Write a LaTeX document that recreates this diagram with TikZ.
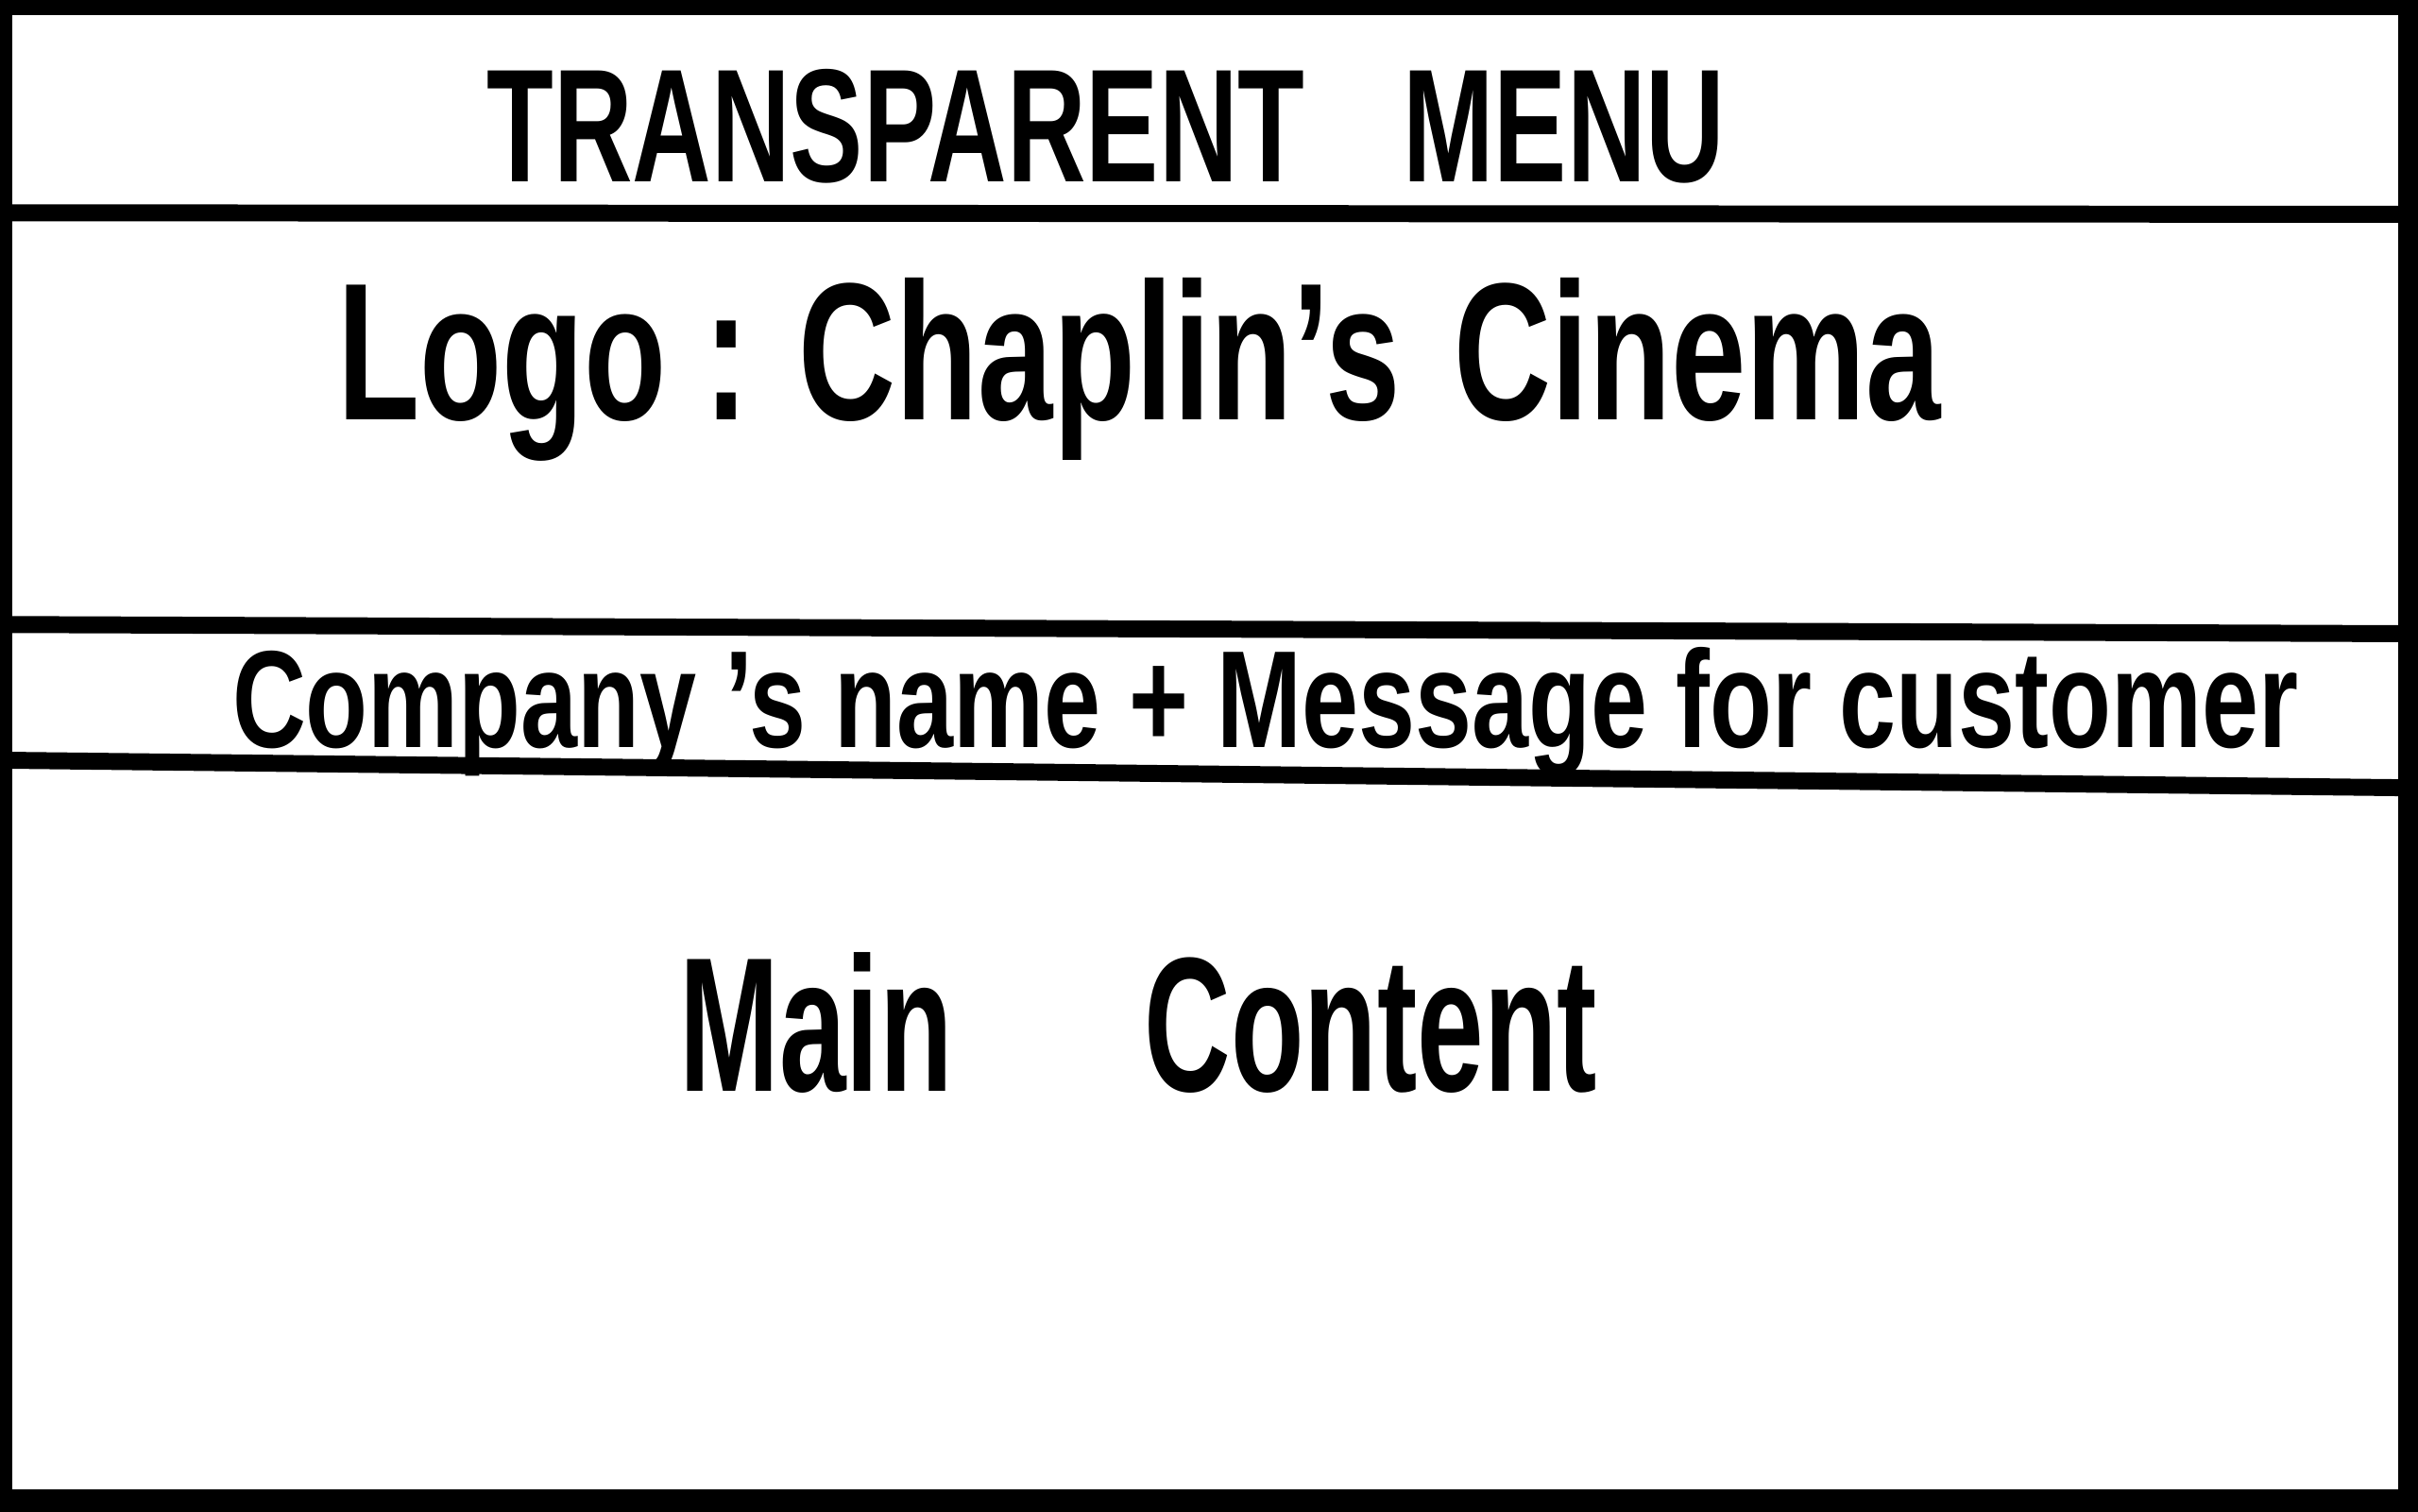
\documentclass[tikz,border=0pt]{standalone}
\usepackage{fontspec}
\setmainfont{Liberation Sans}
\usepackage{graphicx}
\usetikzlibrary{positioning}
\tikzset{
  frameline/.style={line width=2mm},
  divider/.style={line width=1.1mm},
  sketchtext/.style={anchor=base west, inner sep=0pt, font=\bfseries},
}

\begin{document}
\begin{tikzpicture}[x=0.1mm, y=-0.1mm]
\useasboundingbox (0,0) rectangle (1568,980);

% outer frame
\coordinate (tl) at (0,0);
\coordinate (tr) at (1568,0);
\coordinate (bl) at (0,980);
\coordinate (br) at (1568,980);
\draw[frameline] (tl) -- (tr);
\draw[frameline, line width=2.8mm] (bl) -- (br);
\draw[frameline, line width=1.6mm] (tl) -- (bl);
\draw[frameline, line width=2.6mm] (tr) -- (br);

% section dividers
\coordinate (menuL) at (0,138);
\coordinate (menuR) at (1568,139);
\coordinate (logoL) at (0,405);
\coordinate (logoR) at (1568,411);
\coordinate (msgL) at (0,493);
\coordinate (msgR) at (1568,511);
\draw[divider] (menuL) -- (menuR);
\draw[divider] (logoL) -- (logoR);
\draw[divider] (msgL) -- (msgR);

% labels
\node[sketchtext] (menu) at (315,118)
  {\resizebox{80.3mm}{7.3mm}{TRANSPARENT\hspace{0.9em}MENU}};
\node[sketchtext] (logo) at (218,272)
  {\resizebox{104mm}{9.2mm}{Logo : Chaplin's\hspace{0.4em}Cinema}};
\node[sketchtext] (message) at (150,485)
  {\resizebox{134mm}{6.5mm}{Company 's name + Message for customer}};
\node[sketchtext] (content) at (440,708)
  {\resizebox{59.5mm}{9mm}{Main\hspace{1.6em}Content}};
\end{tikzpicture}
\end{document}
